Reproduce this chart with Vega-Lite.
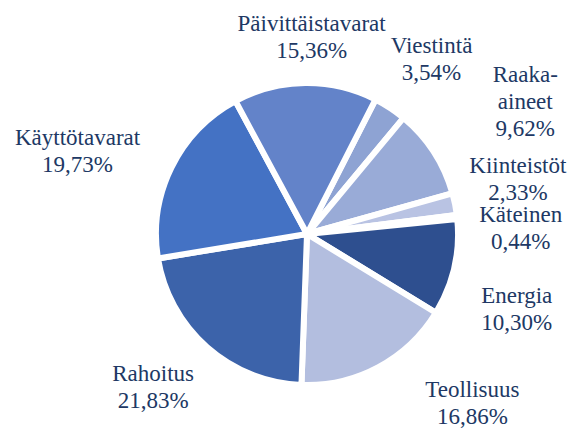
{
  "$schema": "https://vega.github.io/schema/vega-lite/v6.json",
  "width": 544,
  "height": 388,
  "padding": {"left": 35, "top": 40, "right": 0, "bottom": 0},
  "autosize": {"type": "none"},
  "background": "white",
  "view": {"stroke": null},
  "data": {
    "values": [
      {"i": 0, "name": "Viestintä", "share": 3.54, "label": "Viestintä\n3,54%"},
      {"i": 1, "name": "Raaka-aineet", "share": 9.62, "label": "Raaka-\naineet\n9,62%"},
      {"i": 2, "name": "Kiinteistöt", "share": 2.33, "label": "Kiinteistöt\n2,33%"},
      {"i": 3, "name": "Käteinen", "share": 0.44, "label": "Käteinen\n0,44%"},
      {"i": 4, "name": "Energia", "share": 10.30, "label": "Energia\n10,30%"},
      {"i": 5, "name": "Teollisuus", "share": 16.86, "label": "Teollisuus\n16,86%"},
      {"i": 6, "name": "Rahoitus", "share": 21.83, "label": "Rahoitus\n21,83%"},
      {"i": 7, "name": "Käyttötavarat", "share": 19.73, "label": "Käyttötavarat\n19,73%"},
      {"i": 8, "name": "Päivittäistavarat", "share": 15.36, "label": "Päivittäistavarat\n15,36%"}
    ]
  },
  "encoding": {
    "theta": {"field": "share", "type": "quantitative", "stack": true, "scale": {"range": [0.4712, 6.7544]}},
    "order": {"field": "i", "type": "quantitative"},
    "color": {
      "field": "name",
      "type": "nominal",
      "legend": null,
      "scale": {
        "domain": ["Viestintä", "Raaka-aineet", "Kiinteistöt", "Käteinen", "Energia", "Teollisuus", "Rahoitus", "Käyttötavarat", "Päivittäistavarat"],
        "range": ["#8ea3d3", "#99abd7", "#b9c3e3", "#c9d2ec", "#2e4f8f", "#b3bedf", "#3c63aa", "#4472c4", "#6383c9"]
      }
    }
  },
  "layer": [
    {"mark": {"type": "arc", "outerRadius": 151, "stroke": "white", "strokeWidth": 6}},
    {
      "mark": {
        "type": "text",
        "radius": 210,
        "font": "Times New Roman",
        "fontSize": 23,
        "lineHeight": 27,
        "lineBreak": "\n",
        "align": "center",
        "baseline": "middle",
        "dx": {"expr": "[9, 42, 5, 5, 5, 66, -15, -41, 7][datum.i]"},
        "dy": {"expr": "[-12.5, -45, -26.5, 4.5, 15.5, -29.5, -17.5, -3.5, -0.5][datum.i]"}
      },
      "encoding": {
        "text": {"field": "label"},
        "color": {"value": "#203864"}
      }
    }
  ]
}
